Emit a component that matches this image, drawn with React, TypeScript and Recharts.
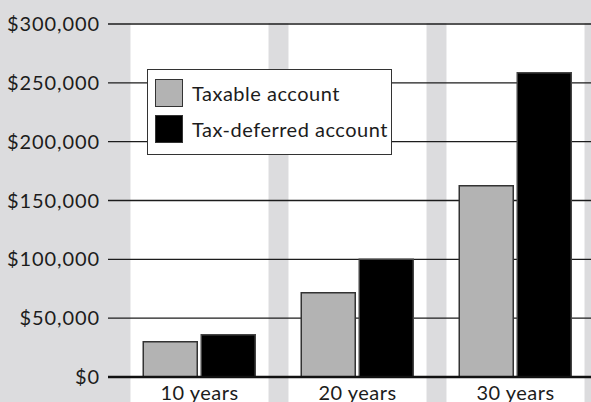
import {
  BarChart,
  Bar,
  XAxis,
  YAxis,
  CartesianGrid,
  Legend,
  ReferenceArea,
} from "recharts";

// Chart data
const categories = ["10 years", "20 years", "30 years"];
const seriesNames = ["Taxable account", "Tax-deferred account"];
const taxableValues = [30000, 71500, 162500];
const deferredValues = [36000, 100000, 258500];
const yTicks = [0, 50000, 100000, 150000, 200000, 250000, 300000];

const data = categories.map((period, i) => ({
  period,
  taxable: taxableValues[i],
  deferred: deferredValues[i],
}));

const FONT = "Lato, 'DejaVu Sans', sans-serif";
const INK = "#1c1c1c";
const PAGE_BG = "#dcdcde";

const tickStyle = { fill: INK, fontSize: 20, fontFamily: FONT, letterSpacing: 0.5 };

// white column behind each category, inset from the band edges and running under the labels
const BandShape = (p: any) => (
  <rect x={p.x + 10} y={p.y - 1} width={p.width - 20} height={p.height + 40} fill="#ffffff" />
);

const renderLegend = (props: any) => {
  // keep series order (recharts sorts legend items by name)
  const items = [...(props.payload || [])].sort(
    (a: any, b: any) => seriesNames.indexOf(a.value) - seriesNames.indexOf(b.value)
  );
  return (
    <div
      style={{
        width: 245,
        height: 86,
        boxSizing: "border-box",
        border: "1.5px solid #333",
        background: "#fff",
        padding: "8.5px 0 0 7px",
      }}
    >
      {items.map((e: any, i: number) => (
        <div
          key={e.value}
          style={{ display: "flex", alignItems: "center", height: 28, marginBottom: i === 0 ? 8.7 : 0 }}
        >
          <span
            style={{
              display: "inline-block",
              width: 28,
              height: 28,
              boxSizing: "border-box",
              background: e.color,
              border: "1.5px solid #333",
              marginRight: 9,
            }}
          />
          <span style={{ fontFamily: FONT, fontSize: 20, letterSpacing: 0.5, color: INK }}>{e.value}</span>
        </div>
      ))}
    </div>
  );
};

export default function App() {
  return (
    <div
      style={{
        position: "absolute",
        left: 0,
        top: 0,
        width: 591,
        height: 402,
        overflow: "hidden",
        background: PAGE_BG,
      }}
    >
      <BarChart
        width={600}
        height={402}
        data={data}
        margin={{ top: 24, right: 5.5, bottom: 0, left: 0 }}
        barCategoryGap="14.4%"
        barGap={4}
      >
        {categories.map((c) => (
          <ReferenceArea key={c} x1={c} x2={c} zIndex={-200} shape={BandShape} ifOverflow="visible" />
        ))}

        <CartesianGrid vertical={false} stroke={INK} strokeOpacity={1} strokeWidth={1.3} />

        <XAxis
          dataKey="period"
          height={25}
          padding={{ left: 12.5, right: 0 }}
          tickLine={false}
          axisLine={{ stroke: "#111", strokeWidth: 2.5 }}
          tick={tickStyle}
          tickMargin={3}
        />
        <YAxis
          width={108}
          domain={[0, 300000]}
          ticks={yTicks}
          interval={0}
          axisLine={false}
          tickLine={false}
          tick={{ ...tickStyle, letterSpacing: 0.9 }}
          tickFormatter={(v: number) => `$${v.toLocaleString("en-US")}`}
        />

        <Legend
          layout="vertical"
          align="center"
          verticalAlign="middle"
          wrapperStyle={{ left: 147, top: 69, width: 245 }}
          content={renderLegend}
        />

        <Bar
          dataKey="taxable"
          name={seriesNames[0]}
          fill="#b3b3b3"
          stroke="#333"
          strokeWidth={1.5}
          isAnimationActive={false}
        />
        <Bar
          dataKey="deferred"
          name={seriesNames[1]}
          fill="#000000"
          stroke="#444"
          strokeWidth={1.5}
          isAnimationActive={false}
        />
      </BarChart>
    </div>
  );
}
